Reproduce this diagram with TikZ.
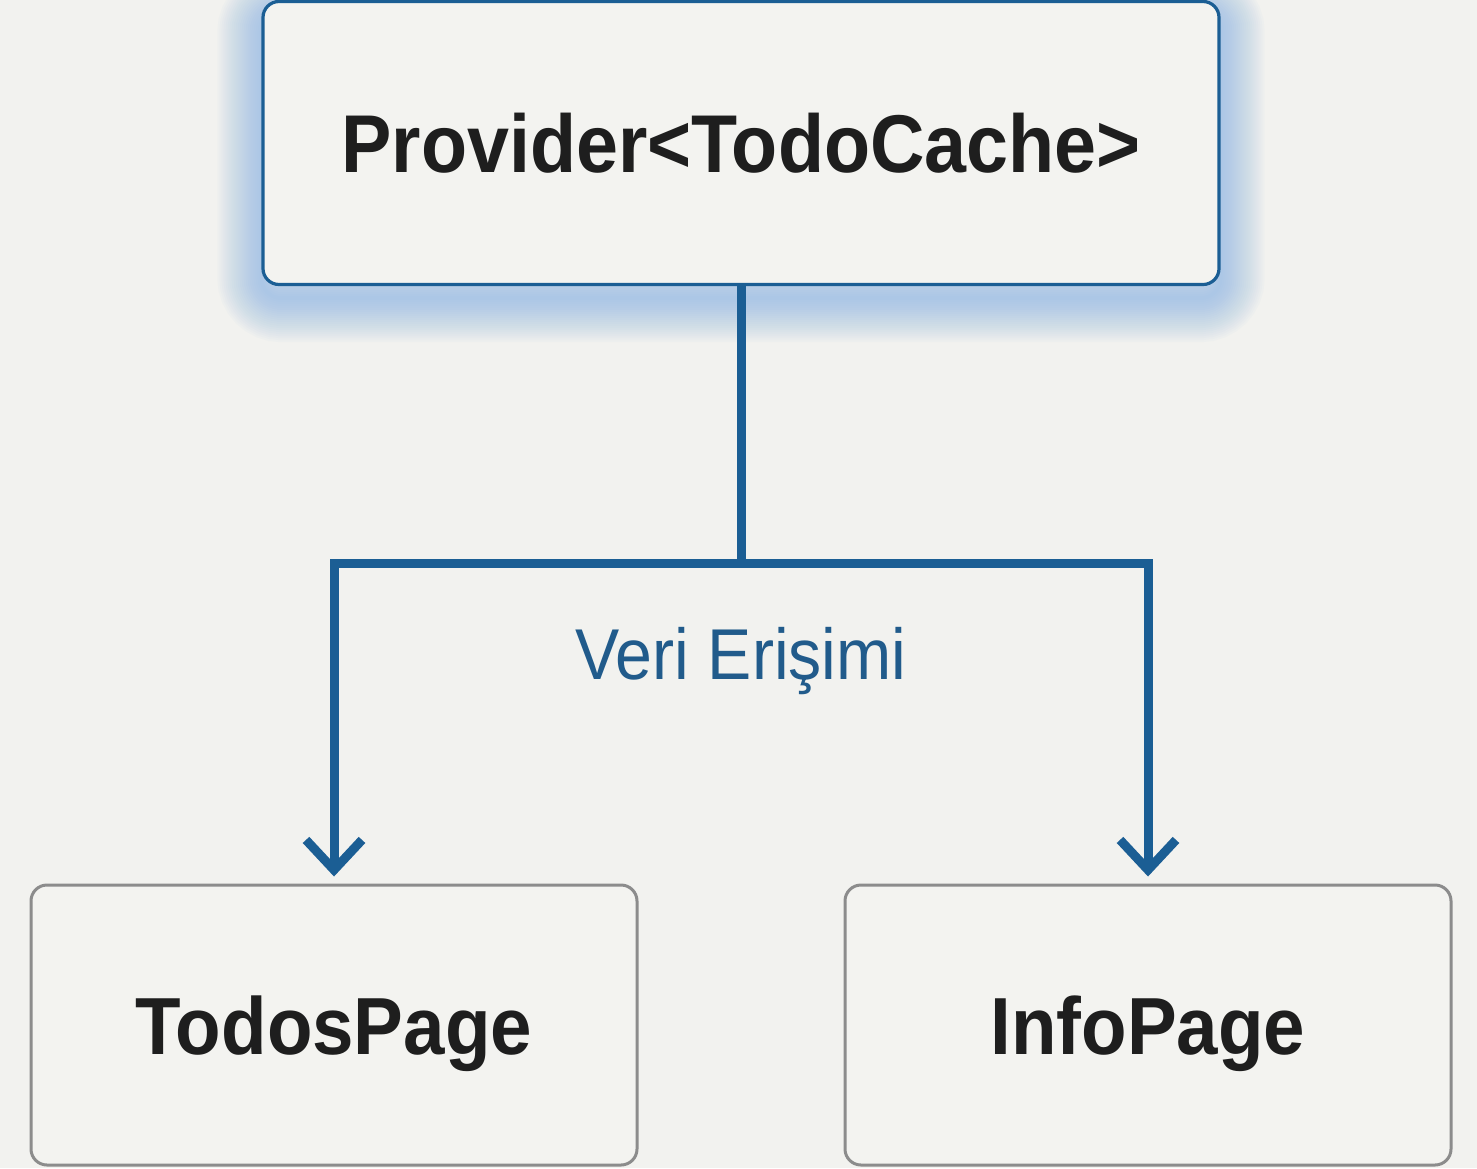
\documentclass[tikz,border=0pt]{standalone}
\usepackage{fontspec}
\setmainfont{Liberation Sans}
\usetikzlibrary{arrows.meta,backgrounds}
\definecolor{pagebg}{HTML}{F2F2EF}
\definecolor{boxfill}{HTML}{F3F3F0}
\definecolor{linkblue}{HTML}{1B5E94}
\definecolor{labelblue}{HTML}{215B8B}
\definecolor{glowblue}{HTML}{7FB0E6}
\definecolor{inkdark}{HTML}{1E1E1E}
\definecolor{boxgray}{HTML}{8C8C8C}
\newcommand{\narrow}[1]{\scalebox{0.92}[1]{#1}}
\begin{document}
\begin{tikzpicture}[x=0.5pt,y=-0.5pt,
  providerbox/.style={draw=linkblue, line width=1.6pt, fill=boxfill,
    rounded corners=8pt, inner sep=0pt,
    minimum width=478pt, minimum height=141.5pt,
    text height=29.4pt, text depth=0pt,
    font=\fontsize{41}{48}\selectfont\bfseries, text=inkdark},
  pagebox/.style={draw=boxgray, line width=1.5pt, fill=boxfill,
    rounded corners=8pt, inner sep=0pt,
    minimum width=303pt, minimum height=140pt,
    text height=29pt, text depth=0pt,
    font=\fontsize{40.5}{48}\selectfont\bfseries, text=inkdark},
  link/.style={draw=linkblue, line width=4.5pt, line join=miter},
  linkarrow/.style={link, -{Straight Barb[length=15pt 0, width=28pt 0]},
    shorten >=3.5pt},
  linklabel/.style={font=\fontsize{36}{42}\selectfont, text=labelblue,
    inner sep=0pt, text height=25.8pt, text depth=0pt}]

  % canvas
  \useasboundingbox (0,0) rectangle (1477,1168);

  % boxes
  \node[providerbox] (provider) at (741,143) {\narrow{Provider<TodoCache>}};
  \node[pagebox] (todos) at (334,1025) {\narrow{TodosPage}};
  \node[pagebox] (info) at (1148,1025) {\narrow{InfoPage}};

  % soft blue halo around the provider box, page background behind it
  \begin{scope}[on background layer]
    \fill[pagebg] (0,0) rectangle (1477,1168);
    \foreach \w in {2,4,...,44}
      \draw[glowblue, line width=\w pt, opacity=0.035, rounded corners=10pt]
        ([yshift=-6pt]provider.north west) rectangle ([yshift=-6pt]provider.south east);
  \end{scope}

  % connectors
  \coordinate (split) at (741,563);
  \draw[link] (provider.south) -- (split);
  \draw[linkarrow] (split) -| (todos.north);
  \draw[linkarrow] (split) -| (info.north);

  \node[linklabel] (access) at (741,654) {\narrow{Veri Erişimi}};
\end{tikzpicture}
\end{document}
